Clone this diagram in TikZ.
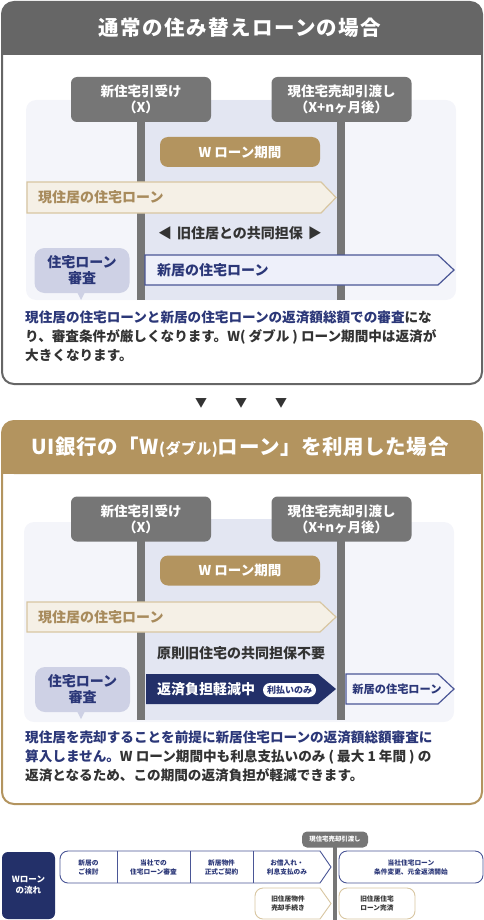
\documentclass[tikz,border=0pt]{standalone}
\usepackage{fontspec}
\setmainfont{Noto Sans CJK JP}
\usetikzlibrary{positioning}
\definecolor{headgray}{HTML}{666666}
\definecolor{markgray}{HTML}{767676}
\definecolor{gold}{HTML}{B3945F}
\definecolor{navy}{HTML}{233069}
\definecolor{navytext}{HTML}{2B3778}
\definecolor{paleblue}{HTML}{F4F5FA}
\definecolor{band}{HTML}{E3E6F2}
\definecolor{beige}{HTML}{F5F0E6}
\definecolor{beigeline}{HTML}{D8C6A1}
\definecolor{beigetext}{HTML}{A88B5C}
\definecolor{bubblefill}{HTML}{CED1E5}
\definecolor{newfill}{HTML}{EEF0FA}
\definecolor{newline}{HTML}{4A5696}
\definecolor{textdark}{HTML}{333333}
\newcommand\pxsize[2]{\fontsize{#1}{#2}\selectfont}
\tikzset{
  headtitle/.style={text=white, inner sep=0pt, font=\bfseries\pxsize{20.5}{24}\addfontfeature{LetterSpace=7}},
  markbox/.style={fill=markgray, rounded corners=6pt, text=white, align=center, inner sep=0pt, minimum width=140pt, minimum height=45pt, font=\bfseries\pxsize{13.5}{16}},
  periodbox/.style={fill=gold, rounded corners=8pt, text=white, inner sep=0pt, minimum width=160pt, minimum height=30pt, font=\bfseries\pxsize{13.5}{16}},
  bubble/.style={fill=bubblefill, rounded corners=10pt, text=navytext, align=center, inner sep=0pt, minimum width=95pt, minimum height=45pt, font=\bfseries\pxsize{14}{16}},
  loanlabel/.style={anchor=west, inner sep=0pt, font=\bfseries\pxsize{14}{16}},
  note/.style={anchor=north west, align=left, inner sep=0pt, text=textdark, font=\bfseries\pxsize{13.6}{19}},
  flowtext/.style={align=center, inner sep=0pt, text=navytext, font=\bfseries\pxsize{6.7}{9}},
  flowline/.style={draw=newline, line width=0.9pt},
  goldline/.style={draw=beigeline, line width=0.9pt}
}
\begin{document}
\begin{tikzpicture}[x=1pt,y=-1pt]
\useasboundingbox (0,0) rectangle (484,920);

% ---- panel 1
\fill[headgray, rounded corners=12pt] (2,55) -- (2,2) -- (482,2) -- (482,55) -- cycle;
\fill[headgray] (2,40) rectangle (482,55);
\draw[headgray, line width=2pt, rounded corners=12pt] (2,2) rectangle (482,384);
\node[headtitle] (title1) at (240,28) {通常の住み替えローンの場合};
\fill[paleblue, rounded corners=10pt] (26,100) rectangle (456,300);
\fill[band] (145,100) rectangle (337,300);
\fill[markgray] (137,122) rectangle (145,300);
\fill[markgray] (337,122) rectangle (345,300);
\node[markbox] (newhome1) at (141,99.5) {新住宅引受け\\（X）};
\node[markbox] (sale1) at (341.5,99.5) {現住宅売却引渡し\\（X+nヶ月後）};
\node[periodbox] (wperiod1) at (240,152) {W ローン期間};
\filldraw[fill=beige, draw=beigeline, line width=1.2pt] (27,182) -- (321,182) -- (336,197.5) -- (321,213) -- (27,213) -- cycle;
\node[loanlabel, text=beigetext] (oldloan1) at (38,197.5) {現住居の住宅ローン};
\node[inner sep=0pt, text=textdark, font=\bfseries\pxsize{14}{16}] (joint1) at (240,233) {◀\hspace{5pt}旧住居との共同担保\hspace{5pt}▶};
\fill[bubblefill] (77,292) -- (81,300) -- (85,292) -- cycle;
\node[bubble] (check1) at (82,270.5) {住宅ローン\\審査};
\filldraw[fill=newfill, draw=newline, line width=1.2pt] (145,255) -- (438,255) -- (454,270) -- (438,285) -- (145,285) -- cycle;
\node[loanlabel, text=navytext] (newloan1) at (157,270) {新居の住宅ローン};
\node[note] (desc1) at (25,311) {{\color{navytext}現住居の住宅ローンと新居の住宅ローンの返済額総額での審査}にな\\り、審査条件が厳しくなります。W( ダブル ) ローン期間中は返済が\\大きくなります。};

% ---- arrows between panels
\foreach \x in {201,241,281}
  \node[inner sep=0pt, text=textdark, font=\pxsize{12}{12}] (down\x) at (\x,403) {▼};

% ---- panel 2
\fill[gold, rounded corners=12pt] (2,474) -- (2,421) -- (482,421) -- (482,474) -- cycle;
\fill[gold] (2,460) rectangle (482,474);
\draw[gold, line width=2pt, rounded corners=12pt] (2,421) rectangle (482,804);
\node[headtitle, font=\bfseries\pxsize{20.5}{24}\addfontfeature{LetterSpace=3}] (title2) at (240,447) {UI銀行の「W{\pxsize{15}{15}(ダブル)}ローン」を利用した場合};
\fill[paleblue, rounded corners=10pt] (24,522) rectangle (454,722);
\fill[band] (145,519) rectangle (337,720);
\fill[markgray] (137,541) rectangle (145,720);
\fill[markgray] (337,541) rectangle (345,720);
\node[markbox] (newhome2) at (141,519) {新住宅引受け\\（X）};
\node[markbox] (sale2) at (341.5,519) {現住宅売却引渡し\\（X+nヶ月後）};
\node[periodbox] (wperiod2) at (240,570.5) {W ローン期間};
\filldraw[fill=beige, draw=beigeline, line width=1.2pt] (27,602) -- (320,602) -- (336,617) -- (320,632) -- (27,632) -- cycle;
\node[loanlabel, text=beigetext] (oldloan2) at (38,617) {現住居の住宅ローン};
\node[inner sep=0pt, text=textdark, font=\bfseries\pxsize{14}{16}] (joint2) at (241,653) {原則旧住宅の共同担保不要};
\fill[bubblefill] (77,711) -- (81,719) -- (85,711) -- cycle;
\node[bubble] (check2) at (82.5,689.5) {住宅ローン\\審査};
\fill[navy] (146,674) -- (318,674) -- (336,689) -- (318,704) -- (146,704) -- cycle;
\node[loanlabel, text=white] (relief2) at (157,689) {返済負担軽減中};
\node[fill=white, rounded corners=7pt, minimum width=53pt, minimum height=14pt, inner sep=0pt, text=navytext, font=\bfseries\pxsize{9}{9}] (interest2) at (289.5,690) {利払いのみ};
\filldraw[fill=newfill!60!white, draw=newline, line width=1.2pt] (346,674) -- (438,674) -- (454,689) -- (438,704) -- (346,704) -- cycle;
\node[inner sep=0pt, text=navytext, font=\bfseries\pxsize{11.2}{12}] (newloan2) at (397,689) {新居の住宅ローン};
\node[note] (desc2) at (25,731) {{\color{navytext}現住居を売却することを前提に新居住宅ローンの返済額総額審査に}\\{\color{navytext}算入しません。}W ローン期間中も利息支払いのみ ( 最大 1 年間 ) の\\返済となるため、この期間の返済負担が軽減できます。};

% ---- flow
\node[fill=navy, rounded corners=6pt, minimum width=53pt, minimum height=67pt, inner sep=0pt, align=center, text=white, font=\bfseries\pxsize{8.5}{11}] (flow) at (28.5,885.5) {Wローン\\の流れ};
\fill[markgray] (333,845) rectangle (337,920);
\node[fill=markgray, rounded corners=5pt, minimum width=66pt, minimum height=16pt, inner sep=0pt, text=white, font=\bfseries\pxsize{6.4}{7}] (handover) at (335,839.5) {現住宅売却引渡し};
\filldraw[fill=white, flowline] (320,851) -- (68,851) arc[start angle=270, end angle=180, radius=8] -- (60,875) arc[start angle=180, end angle=90, radius=8] -- (320,883) -- (331,867) -- cycle;
\draw[flowline] (117,851) -- (117,883);
\draw[flowline] (190,851) -- (190,883);
\draw[flowline] (253,851) -- (253,883);
\node[flowtext] (step1) at (88.5,867) {新居の\\ご検討};
\node[flowtext] (step2) at (153.5,867) {当社での\\住宅ローン審査};
\node[flowtext] (step3) at (221.5,867) {新居物件\\正式ご契約};
\node[flowtext] (step4) at (287,867) {お借入れ・\\利息支払のみ};
\node[draw=newline, line width=0.9pt, fill=white, rounded corners=8pt, minimum width=144pt, minimum height=32pt, flowtext] (step5) at (411,867) {当社住宅ローン\\条件変更、元金返済開始};
\filldraw[fill=white, goldline] (320,888) -- (263,888) arc[start angle=270, end angle=180, radius=8] -- (255,911) arc[start angle=180, end angle=90, radius=8] -- (320,919) -- (331,903.5) -- cycle;
\node[flowtext, text=textdark] (sell) at (288,903.5) {旧住居物件\\売却手続き};
\node[draw=beigeline, line width=0.9pt, fill=white, rounded corners=8pt, minimum width=76pt, minimum height=31pt, flowtext, text=textdark] (repaid) at (377,903.5) {旧住居住宅\\ローン完済};
\end{tikzpicture}
\end{document}
